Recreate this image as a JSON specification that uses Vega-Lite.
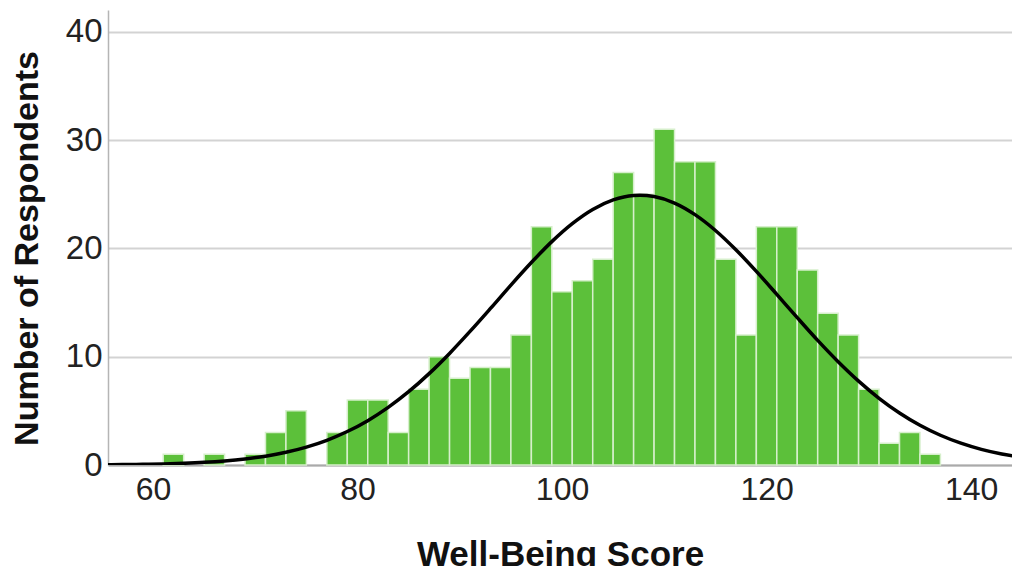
{
  "$schema": "https://vega.github.io/schema/vega-lite/v6.json",
  "width": 904,
  "height": 455,
  "autosize": {"type": "none"},
  "padding": {"left": 108, "top": 10, "right": 0, "bottom": 101},
  "background": "white",
  "config": {"view": {"stroke": null}, "font": "Liberation Sans"},
  "datasets": {
    "bins": [
      {"bin_start": 61, "bin_end": 63, "count": 1},
      {"bin_start": 65, "bin_end": 67, "count": 1},
      {"bin_start": 69, "bin_end": 71, "count": 1},
      {"bin_start": 71, "bin_end": 73, "count": 3},
      {"bin_start": 73, "bin_end": 75, "count": 5},
      {"bin_start": 77, "bin_end": 79, "count": 3},
      {"bin_start": 79, "bin_end": 81, "count": 6},
      {"bin_start": 81, "bin_end": 83, "count": 6},
      {"bin_start": 83, "bin_end": 85, "count": 3},
      {"bin_start": 85, "bin_end": 87, "count": 7},
      {"bin_start": 87, "bin_end": 89, "count": 10},
      {"bin_start": 89, "bin_end": 91, "count": 8},
      {"bin_start": 91, "bin_end": 93, "count": 9},
      {"bin_start": 93, "bin_end": 95, "count": 9},
      {"bin_start": 95, "bin_end": 97, "count": 12},
      {"bin_start": 97, "bin_end": 99, "count": 22},
      {"bin_start": 99, "bin_end": 101, "count": 16},
      {"bin_start": 101, "bin_end": 103, "count": 17},
      {"bin_start": 103, "bin_end": 105, "count": 19},
      {"bin_start": 105, "bin_end": 107, "count": 27},
      {"bin_start": 107, "bin_end": 109, "count": 25},
      {"bin_start": 109, "bin_end": 111, "count": 31},
      {"bin_start": 111, "bin_end": 113, "count": 28},
      {"bin_start": 113, "bin_end": 115, "count": 28},
      {"bin_start": 115, "bin_end": 117, "count": 19},
      {"bin_start": 117, "bin_end": 119, "count": 12},
      {"bin_start": 119, "bin_end": 121, "count": 22},
      {"bin_start": 121, "bin_end": 123, "count": 22},
      {"bin_start": 123, "bin_end": 125, "count": 18},
      {"bin_start": 125, "bin_end": 127, "count": 14},
      {"bin_start": 127, "bin_end": 129, "count": 12},
      {"bin_start": 129, "bin_end": 131, "count": 7},
      {"bin_start": 131, "bin_end": 133, "count": 2},
      {"bin_start": 133, "bin_end": 135, "count": 3},
      {"bin_start": 135, "bin_end": 137, "count": 1}
    ],
    "curve": [
      {"score": 55, "density": 0.021},
      {"score": 57, "density": 0.036},
      {"score": 59, "density": 0.060},
      {"score": 61, "density": 0.098},
      {"score": 63, "density": 0.156},
      {"score": 65, "density": 0.243},
      {"score": 67, "density": 0.372},
      {"score": 69, "density": 0.557},
      {"score": 71, "density": 0.817},
      {"score": 73, "density": 1.175},
      {"score": 75, "density": 1.655},
      {"score": 77, "density": 2.283},
      {"score": 79, "density": 3.090},
      {"score": 81, "density": 4.094},
      {"score": 83, "density": 5.318},
      {"score": 85, "density": 6.766},
      {"score": 87, "density": 8.434},
      {"score": 89, "density": 10.30},
      {"score": 91, "density": 12.33},
      {"score": 93, "density": 14.45},
      {"score": 95, "density": 16.61},
      {"score": 97, "density": 18.69},
      {"score": 99, "density": 20.62},
      {"score": 101, "density": 22.28},
      {"score": 103, "density": 23.59},
      {"score": 105, "density": 24.47},
      {"score": 107, "density": 24.88},
      {"score": 107.6, "density": 24.9},
      {"score": 109, "density": 24.78},
      {"score": 111, "density": 24.18},
      {"score": 113, "density": 23.11},
      {"score": 115, "density": 21.65},
      {"score": 117, "density": 19.87},
      {"score": 119, "density": 17.87},
      {"score": 121, "density": 15.75},
      {"score": 123, "density": 13.60},
      {"score": 125, "density": 11.50},
      {"score": 127, "density": 9.534},
      {"score": 129, "density": 7.742},
      {"score": 131, "density": 6.160},
      {"score": 133, "density": 4.803},
      {"score": 135, "density": 3.668},
      {"score": 137, "density": 2.746},
      {"score": 139, "density": 2.013},
      {"score": 141, "density": 1.446},
      {"score": 143, "density": 1.018},
      {"score": 145, "density": 0.702}
    ]
  },
  "layer": [
    {
      "data": {"name": "bins"},
      "mark": {"type": "bar", "color": "#5cc03a", "stroke": "#d6efcb", "strokeWidth": 1.5},
      "encoding": {
        "x": {
          "field": "bin_start",
          "type": "quantitative",
          "scale": {"domain": [55.6, 144], "nice": false, "zero": false},
          "axis": {
            "values": [60, 80, 100, 120, 140],
            "title": "Well-Being Score",
            "titleFontSize": 35,
            "titleFontWeight": "bold",
            "titleColor": "#111111",
            "titleX": 452,
            "titleY": 100,
            "titleAlign": "center",
            "titleBaseline": "alphabetic",
            "labelFontSize": 32,
            "labelColor": "#222222",
            "labelPadding": 9,
            "grid": false,
            "ticks": false,
            "domainColor": "#aaaaaa",
            "domainWidth": 2
          }
        },
        "x2": {"field": "bin_end"},
        "y": {
          "field": "count",
          "type": "quantitative",
          "scale": {"domain": [0, 42], "nice": false},
          "axis": {
            "values": [0, 10, 20, 30, 40],
            "title": "Number of Respondents",
            "titleFontSize": 34,
            "titleFontWeight": "bold",
            "titleColor": "#111111",
            "titleAngle": -90,
            "titleX": -81,
            "titleY": 238,
            "titleAlign": "center",
            "titleBaseline": "middle",
            "labelFontSize": 33,
            "labelColor": "#222222",
            "labelPadding": 6,
            "grid": true,
            "gridColor": "#d3d3d3",
            "gridWidth": 2,
            "ticks": false,
            "domainColor": "#b5b5b5",
            "domainWidth": 1.5
          }
        },
        "y2": {"datum": 0}
      }
    },
    {
      "data": {"name": "curve"},
      "mark": {"type": "line", "color": "#000000", "strokeWidth": 3.5, "clip": true, "interpolate": "monotone"},
      "encoding": {
        "x": {"field": "score", "type": "quantitative"},
        "y": {"field": "density", "type": "quantitative"}
      }
    }
  ]
}
